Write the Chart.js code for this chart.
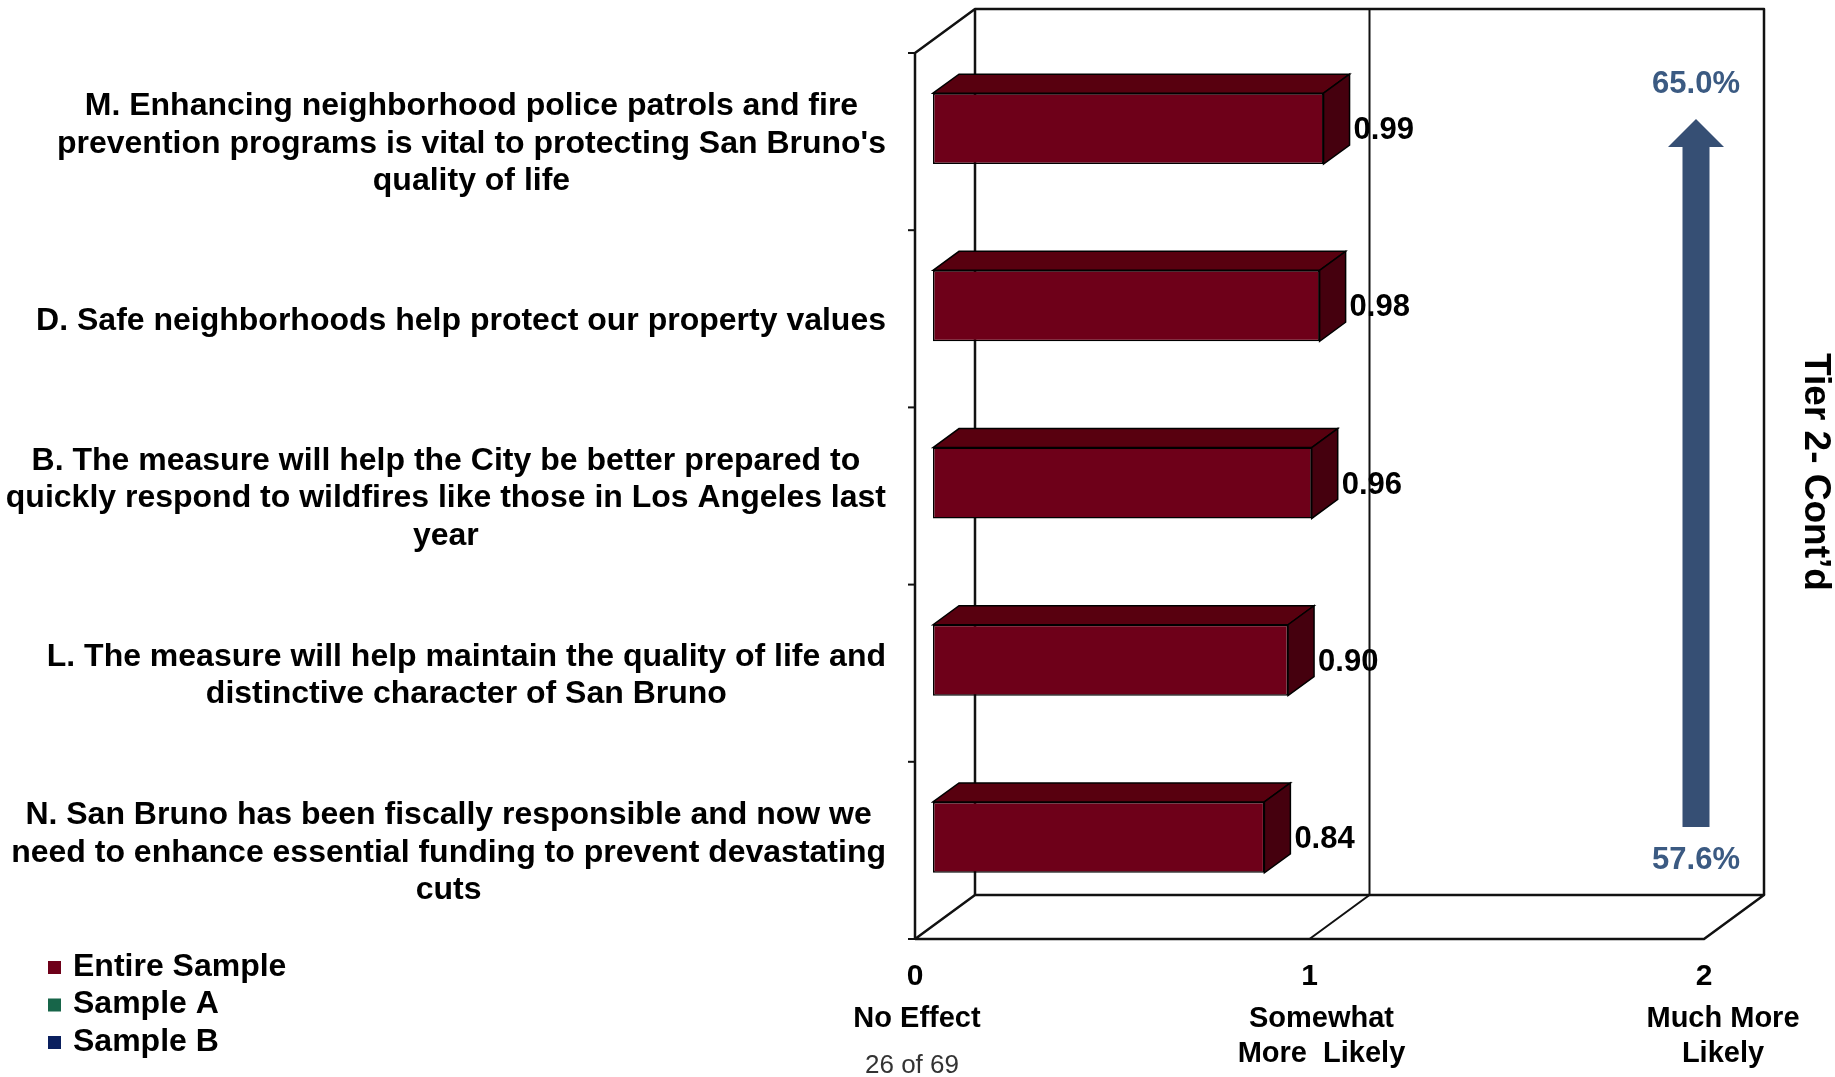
<!DOCTYPE html>
<html>
<head>
<meta charset="utf-8">
<script src="https://cdn.jsdelivr.net/npm/chart.js@4.4.1/dist/chart.umd.min.js"></script>
<style>
  body { margin: 0; background: #fff; }
  canvas { display: block; }
</style>
</head>
<body>
<canvas id="myChart" width="1835" height="1077"></canvas>
<script>
const categories = [
  ['M. Enhancing neighborhood police patrols and fire', 'prevention programs is vital to protecting San Bruno\'s', 'quality of life'],
  ['D. Safe neighborhoods help protect our property values'],
  ['B. The measure will help the City be better prepared to', 'quickly respond to wildfires like those in Los Angeles last', 'year'],
  ['L. The measure will help maintain the quality of life and', 'distinctive character of San Bruno'],
  ['N. San Bruno has been fiscally responsible and now we', 'need to enhance essential funding to prevent devastating', 'cuts']
];
const entireSample = [0.99, 0.98, 0.96, 0.90, 0.84];
const xTicks = [0, 1, 2];
const xTickNames = [['No Effect'], ['Somewhat', 'More  Likely'], ['Much More', 'Likely']];
const legendNames = ['Entire Sample', 'Sample A', 'Sample B'];
const legendColors = ['#6e0019', '#176549', '#0a1f5e'];
const arrowLabels = ['65.0%', '57.6%'];
const sideTitle = 'Tier 2- Cont\u2019d';
const pageNote = '26 of 69';

// 3d look: depth vector and where the bars sit inside it
const DEPTH = { x: 60, y: -44 };
const FRONT = { x: -18, y: 13 };      // front plane relative to the bar plane
const BARD = { x: 26, y: -19 };       // bar thickness in depth
const FONT = '"Liberation Sans", Arial, sans-serif';

const box3d = {
  id: 'box3d',
  beforeDatasetsDraw(chart) {
    const ctx = chart.ctx;
    const xs = chart.scales.x;
    const a = chart.chartArea;
    const fx = v => xs.getPixelForValue(v) + FRONT.x;
    const top = a.top + FRONT.y, bot = a.bottom + FRONT.y;
    const x0 = fx(0), x2 = fx(2), x1 = fx(1);
    ctx.save();
    ctx.strokeStyle = '#111';
    ctx.lineWidth = 2.5;
    ctx.lineJoin = 'round';
    function line(pts) {
      ctx.beginPath();
      ctx.moveTo(pts[0][0], pts[0][1]);
      for (let i = 1; i < pts.length; i++) ctx.lineTo(pts[i][0], pts[i][1]);
      ctx.stroke();
    }
    // left wall + back wall outline
    line([[x0, bot], [x0, top], [x0 + DEPTH.x, top + DEPTH.y], [x2 + DEPTH.x, top + DEPTH.y], [x2 + DEPTH.x, bot + DEPTH.y]]);
    line([[x0 + DEPTH.x, top + DEPTH.y], [x0 + DEPTH.x, bot + DEPTH.y]]);
    // floor
    line([[x0, bot], [x2, bot], [x2 + DEPTH.x, bot + DEPTH.y], [x0 + DEPTH.x, bot + DEPTH.y], [x0, bot]]);
    // gridline at 1
    ctx.lineWidth = 2;
    line([[x1, bot], [x1 + DEPTH.x, bot + DEPTH.y], [x1 + DEPTH.x, top + DEPTH.y]]);
    // category ticks on the front axis
    const n = categories.length;
    for (let i = 0; i <= n; i++) {
      const y = top + (bot - top) * i / n;
      line([[x0 - 7, y], [x0, y]]);
    }
    ctx.restore();
  },
  afterDatasetsDraw(chart) {
    const ctx = chart.ctx;
    const meta = chart.getDatasetMeta(0);
    ctx.save();
    ctx.strokeStyle = '#000';
    ctx.lineWidth = 1.5;
    ctx.lineJoin = 'miter';
    meta.data.forEach((bar, i) => {
      const p = bar.getProps(['x', 'y', 'base', 'height'], true);
      const t = p.y - p.height / 2, b = p.y + p.height / 2;
      // top face
      ctx.beginPath();
      ctx.moveTo(p.base, t);
      ctx.lineTo(p.base + BARD.x, t + BARD.y);
      ctx.lineTo(p.x + BARD.x, t + BARD.y);
      ctx.lineTo(p.x, t);
      ctx.closePath();
      ctx.fillStyle = '#58000f';
      ctx.fill();
      ctx.stroke();
      // side face
      ctx.beginPath();
      ctx.moveTo(p.x, t);
      ctx.lineTo(p.x + BARD.x, t + BARD.y);
      ctx.lineTo(p.x + BARD.x, b + BARD.y);
      ctx.lineTo(p.x, b);
      ctx.closePath();
      ctx.fillStyle = '#45000e';
      ctx.fill();
      ctx.stroke();
      // value label
      ctx.fillStyle = '#000';
      ctx.font = 'bold 31px ' + FONT;
      ctx.textAlign = 'left';
      ctx.textBaseline = 'middle';
      ctx.fillText(entireSample[i].toFixed(2), p.x + 30, p.y + 2);
    });
    ctx.restore();
  },
  afterDraw(chart) {
    const ctx = chart.ctx;
    const xs = chart.scales.x, ys = chart.scales.y;
    const a = chart.chartArea;
    ctx.save();
    ctx.fillStyle = '#000';
    // category labels, block right edge aligned
    ctx.font = 'bold 32px ' + FONT;
    ctx.textBaseline = 'middle';
    ctx.textAlign = 'center';
    const rightEdge = 886, lh = 37.5;
    categories.forEach((lines, i) => {
      const cy = ys.getPixelForValue(i) + FRONT.y + 2.5;
      const w = Math.max(...lines.map(s => ctx.measureText(s).width));
      const cx = rightEdge - w / 2;
      lines.forEach((s, k) => {
        ctx.fillText(s, cx, cy + (k - (lines.length - 1) / 2) * lh);
      });
    });
    // x tick labels and descriptions
    const nameShift = [2, 12, 19];
    xTicks.forEach((v, i) => {
      const x = xs.getPixelForValue(v) + FRONT.x;
      ctx.font = 'bold 30px ' + FONT;
      ctx.fillText(String(v), x, a.bottom + FRONT.y + 38);
      ctx.font = 'bold 29px ' + FONT;
      xTickNames[i].forEach((s, k) => {
        ctx.fillText(s, x + nameShift[i], a.bottom + FRONT.y + 80 + k * 35);
      });
    });
    // legend
    ctx.textAlign = 'left';
    ctx.font = 'bold 32px ' + FONT;
    legendNames.forEach((s, i) => {
      const y = 967 + i * 37.5;
      ctx.fillStyle = legendColors[i];
      ctx.fillRect(48, y - 6, 13, 13);
      ctx.fillStyle = '#000';
      ctx.fillText(s, 73, y);
    });
    // page note
    ctx.textAlign = 'center';
    ctx.fillStyle = '#333';
    ctx.font = '26px ' + FONT;
    ctx.fillText(pageNote, 912, 1066);
    // arrow
    const ax = 1696;
    ctx.fillStyle = '#364f74';
    ctx.beginPath();
    ctx.moveTo(ax, 119);
    ctx.lineTo(ax + 28, 147);
    ctx.lineTo(ax + 13.5, 147);
    ctx.lineTo(ax + 13.5, 827);
    ctx.lineTo(ax - 13.5, 827);
    ctx.lineTo(ax - 13.5, 147);
    ctx.lineTo(ax - 28, 147);
    ctx.closePath();
    ctx.fill();
    ctx.fillStyle = '#3b5a82';
    ctx.font = 'bold 31px ' + FONT;
    ctx.fillText(arrowLabels[0], ax, 84);
    ctx.fillText(arrowLabels[1], ax, 860);
    // side title, rotated
    ctx.save();
    ctx.translate(1815, 472);
    ctx.rotate(Math.PI / 2);
    ctx.fillStyle = '#000';
    ctx.font = 'bold 37px ' + FONT;
    ctx.fillText(sideTitle, 0, 0);
    ctx.restore();
    ctx.restore();
  }
};

const ctx = document.getElementById('myChart').getContext('2d');
const chart = new Chart(ctx, {
  type: 'bar',
  data: {
    labels: categories,
    datasets: [{
      label: legendNames[0],
      data: entireSample,
      backgroundColor: '#6e0019',
      borderColor: '#000',
      borderWidth: 1.5,
      borderSkipped: false,
      categoryPercentage: 1,
      barPercentage: 0.4
    }]
  },
  options: {
    indexAxis: 'y',
    responsive: false,
    animation: false,
    layout: { padding: { left: 933, right: 113, top: 40, bottom: 151 } },
    scales: {
      x: { min: 0, max: 2, display: false },
      y: { display: false }
    },
    plugins: {
      legend: { display: false },
      tooltip: { enabled: false }
    }
  },
  plugins: [box3d]
});
</script>
</body>
</html>
